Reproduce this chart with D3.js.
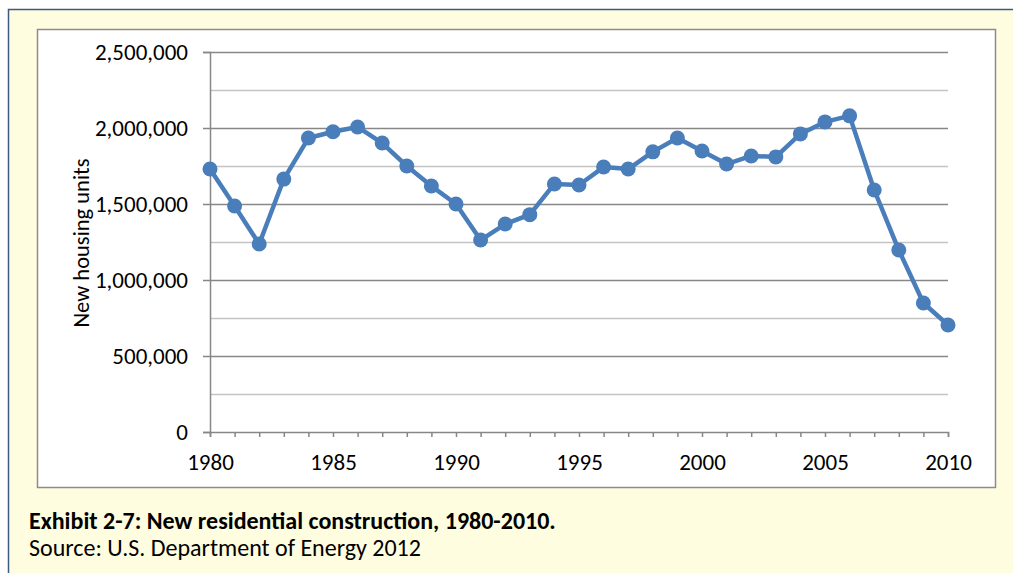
<!DOCTYPE html>
<html lang="en">
<head>
    <meta charset="UTF-8">
    <title>New residential construction, 1980-2010</title>
    <script src="https://d3js.org/d3.v7.min.js"></script>
    <style>
        body {
            margin: 0;
            background: #ffffff;
        }
        text {
            font-family: Calibri, Carlito, Lato, sans-serif;
            fill: #000;
        }
    </style>
</head>
<body>
    <svg id="svg" width="1013" height="573"></svg>
    <script>
        // Data
        const years = d3.range(1980, 2011);
        const units = [
            1730000, 1487000, 1237000, 1664000, 1934000, 1975000, 2007000, 1901000,
            1750000, 1618000, 1500000, 1263000, 1368000, 1430000, 1632000, 1625000,
            1743000, 1730000, 1843000, 1934000, 1849000, 1763000, 1816000, 1810000,
            1961000, 2040000, 2080000, 1592000, 1197000, 849000, 704000
        ];
        const yTicks = [0, 500000, 1000000, 1500000, 2000000, 2500000];
        const yGrid = d3.range(0, 2500001, 250000);
        const xLabels = [1980, 1985, 1990, 1995, 2000, 2005, 2010];

        const svg = d3.select("#svg");

        // Outer yellow exhibit frame
        svg.append("rect")
            .attr("x", 8.5).attr("y", 9.5)
            .attr("width", 1020).attr("height", 580)
            .attr("fill", "#fffde0")
            .attr("stroke", "#3c5a82")
            .attr("stroke-width", 1.5);

        // White chart box
        svg.append("rect")
            .attr("x", 37.5).attr("y", 29.5)
            .attr("width", 958).attr("height", 458)
            .attr("fill", "#fff")
            .attr("stroke", "#8c8c8c")
            .attr("stroke-width", 1.5);

        const x = d3.scaleLinear().domain([1980, 2010]).range([210, 948]);
        const y = d3.scaleLinear().domain([0, 2500000]).range([432, 52]);

        // Gridlines
        svg.append("g")
            .selectAll("line")
            .data(yGrid.filter(d => d > 0))
            .enter().append("line")
            .attr("x1", x(1980)).attr("x2", x(2010))
            .attr("y1", d => Math.round(y(d)) + 0.5)
            .attr("y2", d => Math.round(y(d)) + 0.5)
            .attr("stroke", d => d % 500000 === 0 ? "#878787" : "#c4c4c4")
            .attr("stroke-width", 1.5);

        // Y axis
        const yAxis = svg.append("g")
            .attr("transform", `translate(${x(1980)},0)`)
            .call(d3.axisLeft(y).tickValues(yTicks).tickSize(7).tickPadding(15)
                .tickFormat(d3.format(",")));
        yAxis.select(".domain").attr("stroke", "#878787").attr("stroke-width", 1.5);
        yAxis.selectAll(".tick line").attr("stroke", "#878787").attr("stroke-width", 1.5);
        yAxis.selectAll(".tick text")
            .style("font-size", "23px");

        // X axis
        const xAxis = svg.append("g")
            .attr("transform", `translate(0,${y(0)})`)
            .call(d3.axisBottom(x).tickValues(years).tickSize(5).tickPadding(17)
                .tickFormat(d => xLabels.includes(d) ? d : ""));
        xAxis.select(".domain").attr("stroke", "#878787").attr("stroke-width", 1.5);
        xAxis.selectAll(".tick line").attr("stroke", "#878787").attr("stroke-width", 1.5);
        xAxis.selectAll(".tick text")
            .style("font-size", "23px");

        // Y axis title
        svg.append("text")
            .attr("transform", "translate(89,243) rotate(-90)")
            .attr("text-anchor", "middle")
            .style("font-size", "22.5px")
            .text("New housing units");

        // Series line
        const line = d3.line()
            .x((d, i) => x(years[i]))
            .y(d => y(d));

        svg.append("path")
            .datum(units)
            .attr("d", line)
            .attr("fill", "none")
            .attr("stroke", "#4a7ebb")
            .attr("stroke-width", 4.5)
            .attr("stroke-linejoin", "round");

        svg.append("g")
            .selectAll("circle")
            .data(units)
            .enter().append("circle")
            .attr("cx", (d, i) => x(years[i]))
            .attr("cy", d => y(d))
            .attr("r", 7.5)
            .attr("fill", "#4a7ebb");

        // Caption
        svg.append("text")
            .attr("x", 29).attr("y", 529)
            .style("font-size", "24px")
            .style("font-weight", "bold")
            .text("Exhibit 2-7: New residential construction, 1980-2010.");

        svg.append("text")
            .attr("x", 29).attr("y", 556)
            .style("font-size", "24px")
            .text("Source: U.S. Department of Energy 2012");
    </script>
</body>
</html>
